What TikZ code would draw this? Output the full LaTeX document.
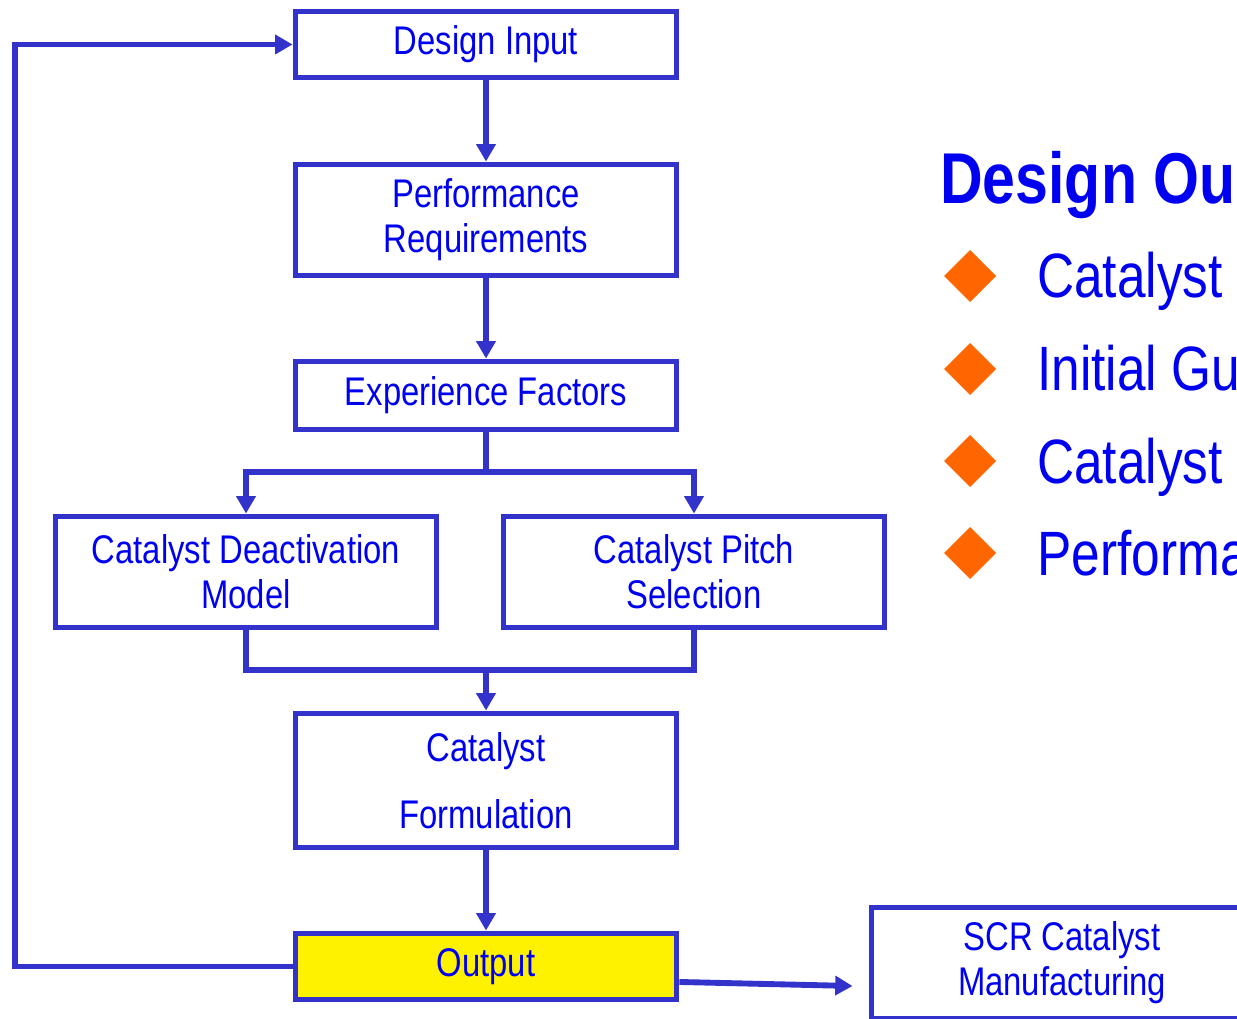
\documentclass[tikz,border=0pt]{standalone}
\usepackage{fontspec}
\setmainfont{Liberation Sans}
\newfontfamily\narrow[FakeStretch=0.82]{Liberation Sans}
\usetikzlibrary{arrows.meta}
\definecolor{edge}{RGB}{51,51,204}
\definecolor{ink}{RGB}{0,0,240}
\definecolor{bulletorange}{RGB}{255,102,0}
\begin{document}
\begin{tikzpicture}[x=0.75pt,y=-0.75pt,
  box/.style={draw=edge, line width=4.4pt, fill=white, rectangle, inner sep=0pt,
    minimum width=285.75pt, text=ink, align=center,
    font=\narrow\fontsize{30}{33.75}\selectfont},
  link/.style={draw=edge, line width=4.4pt},
  arr/.style={link, -{Triangle[length=13pt,width=14pt]}},
  bullet/.style={anchor=base west, inner sep=0pt, text=ink,
    font=\narrow\fontsize{47}{50}\selectfont},
]
\useasboundingbox (0,0) rectangle (1237,1019);
\clip (0,0) rectangle (1237,1019);

% flow chart boxes
\node[box, minimum height=49.5pt]  (inp)   at (486,44.5)  {Design Input};
\node[box, minimum height=83.25pt] (perf)  at (486,220)   {Performance\\Requirements};
\node[box, minimum height=51pt]    (exp)   at (486,395.5) {Experience Factors};
\node[box, minimum height=83.25pt] (deact) at (246,572)   {Catalyst Deactivation\\Model};
\node[box, minimum height=83.25pt] (pitch) at (694,572)   {Catalyst Pitch\\Selection};
\node[box, minimum height=100.5pt] (form)  at (486,780.5) {Catalyst\\[16.25pt]Formulation};
\node[box, minimum height=49.5pt, fill=yellow] (out) at (486,966.5) {Output};
\node[box, minimum height=83.25pt] (scr)   at (1062,963)  {SCR Catalyst\\Manufacturing};

% junction points
\coordinate (split) at (486,472);
\coordinate (merge) at (486,670);
\coordinate (fb)    at (15,500);

% connectors
\draw[arr] (inp.south) -- (perf.north);
\draw[arr] (perf.south) -- (exp.north);
\draw[link] (exp.south) -- (split);
\draw[arr] (split) -| (deact.north);
\draw[arr] (split) -| (pitch.north);
\draw[link] (deact.south) |- (merge);
\draw[link] (pitch.south) |- (merge);
\draw[arr] (merge) -- (form.north);
\draw[arr] (form.south) -- (out.north);
\draw[arr] (out.west) -| (fb) |- (inp.west);
\draw[arr] ([yshift=-11.6pt]out.east) -- ([xshift=-12pt,yshift=-17.25pt]scr.west);

% design output list
\node[anchor=base west, inner sep=0pt, text=ink,
  font=\narrow\bfseries\fontsize{54}{58}\selectfont] (title) at (940,204) {Design Ou};
\foreach \y/\t [count=\i] in {298/Catalyst, 391/Initial Gu, 483/Catalyst, 575/Performa}{
  \fill[bulletorange] (970,\y-48) -- ++(26,26) -- ++(-26,26) -- ++(-26,-26) -- cycle;
  \node[bullet] (item\i) at (1037,\y) {\t};
}
\end{tikzpicture}
\end{document}
